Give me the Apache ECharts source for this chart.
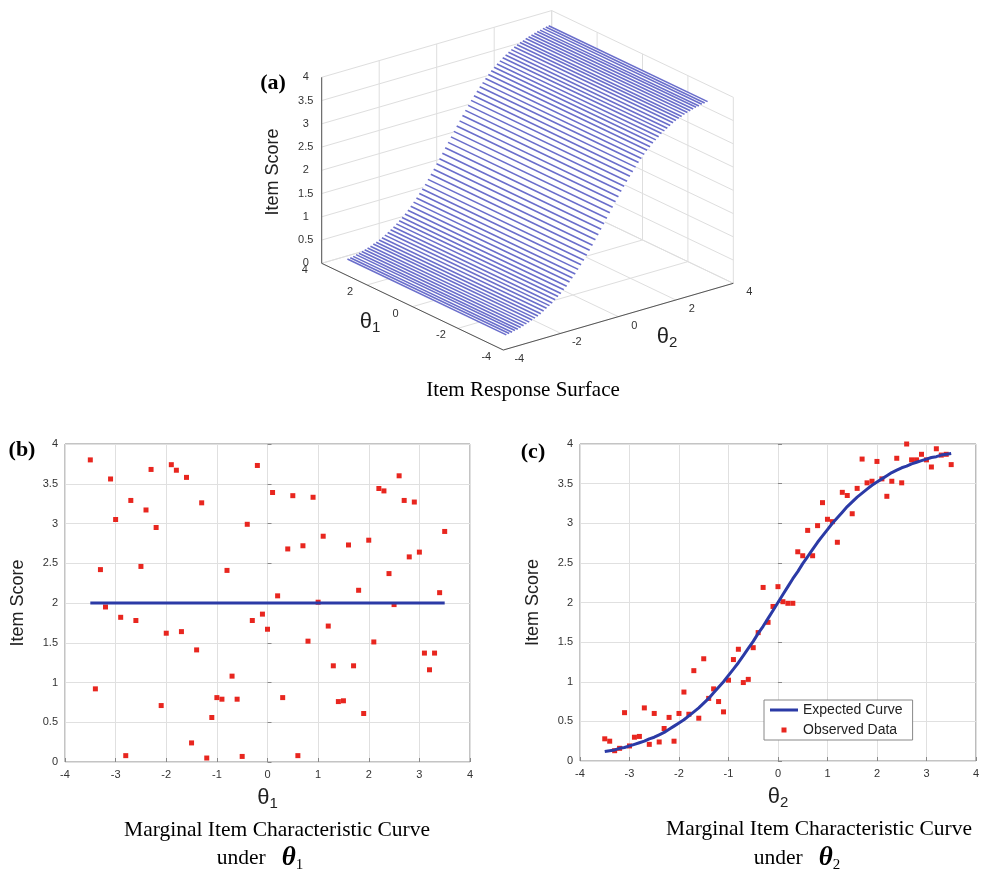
<!DOCTYPE html>
<html>
<head>
<meta charset="utf-8">
<script src="https://cdn.jsdelivr.net/npm/echarts@6/dist/echarts.min.js"></script>
<style>
  html, body { margin: 0; padding: 0; background: #fff; }
  #main { width: 982px; height: 873px; }
</style>
</head>
<body>
<div id="main"></div>
<script>
// ---------- data ----------
var theta = [-3.5,-3.4,-3.3,-3.2,-3.1,-3.0,-2.9,-2.8,-2.7,-2.6,-2.5,-2.4,-2.3,-2.2,-2.1,-2.0,-1.9,-1.8,-1.7,-1.6,
  -1.5,-1.4,-1.3,-1.2,-1.1,-1.0,-0.9,-0.8,-0.7,-0.6,-0.5,-0.4,-0.3,-0.2,-0.1,0.0,0.1,0.2,0.3,0.4,
  0.5,0.6,0.7,0.8,0.9,1.0,1.1,1.2,1.3,1.4,1.5,1.6,1.7,1.8,1.9,2.0,2.1,2.2,2.3,2.4,
  2.5,2.6,2.7,2.8,2.9,3.0,3.1,3.2,3.3,3.4,3.5];

// (b) observed item scores against theta1
var scoreB = [3.80,0.92,2.42,1.95,3.56,3.05,1.82,0.08,3.29,1.78,2.46,3.17,3.68,2.95,0.71,1.62,3.74,3.67,1.64,3.58,
  0.24,1.41,3.26,0.05,0.56,0.81,0.79,2.41,1.08,0.79,0.07,2.99,1.78,3.73,1.86,1.67,3.39,2.09,0.81,2.68,
  3.35,0.08,2.72,1.52,3.33,2.01,2.84,1.71,1.21,0.76,0.77,2.73,1.21,2.16,0.61,2.79,1.51,3.44,3.41,2.37,
  1.98,3.60,3.29,2.58,3.27,2.64,1.37,1.16,1.37,2.13,2.90];
var levelB = 2.0;   // flat marginal curve in (b)

// (c) observed item scores against theta2
var scoreC = [0.28,0.25,0.13,0.16,0.61,0.19,0.30,0.31,0.67,0.21,0.60,0.24,0.41,0.55,0.25,0.60,0.87,0.59,1.14,0.54,
  1.29,0.79,0.91,0.75,0.62,1.02,1.28,1.41,0.99,1.03,1.43,1.62,2.19,1.75,1.95,2.20,2.01,1.99,1.99,2.64,
  2.59,2.91,2.59,2.97,3.26,3.05,3.02,2.76,3.39,3.35,3.12,3.44,3.81,3.51,3.53,3.78,3.56,3.34,3.53,3.82,
  3.51,4.00,3.80,3.80,3.87,3.80,3.71,3.94,3.86,3.87,3.74];

// expected curve (c), also the height of the surface (a) along theta2
var expectedC = [0.12,0.13,0.14,0.16,0.17,0.19,0.21,0.23,0.25,0.28,0.30,0.33,0.36,0.40,0.44,0.48,0.52,0.57,0.62,0.67,
  0.73,0.79,0.86,0.93,1.00,1.08,1.16,1.24,1.33,1.42,1.51,1.61,1.70,1.80,1.90,2.00,2.10,2.20,2.30,2.39,
  2.49,2.58,2.67,2.76,2.84,2.92,3.00,3.07,3.14,3.21,3.27,3.33,3.38,3.43,3.48,3.52,3.56,3.60,3.64,3.67,
  3.70,3.72,3.75,3.77,3.79,3.81,3.83,3.84,3.86,3.87,3.88];

var cubeTicks = [-4,-2,0,2,4];
var zTicks = [0,0.5,1,1.5,2,2.5,3,3.5,4];

// ---------- 3D view of panel (a) ----------
var last = theta.length - 1;
var O3 = [527.5, 273.3], U3 = [-22.7, -10.84], V3 = [28.75, -8.34], W3 = [0, -46.5];
function proj(t1, t2, z) {
  return [O3[0] + t1 * U3[0] + t2 * V3[0] + z * W3[0],
          O3[1] + t1 * U3[1] + t2 * V3[1] + z * W3[1]];
}

var TXT = '"Liberation Sans", Arial, sans-serif';
var SERIF = '"Liberation Serif", "Times New Roman", serif';
var BLUE = '#2b3aa6', RED = '#e8261f';

function tstyle(s, font, extra) {
  var o = { text: s, fill: '#222', font: font, align: 'center', verticalAlign: 'middle',
            textAlign: 'center', textVerticalAlign: 'middle' };
  for (var k in extra) o[k] = extra[k];
  return o;
}

function renderBox(params, api) {
  var kids = [];
  var gridC = '#dedede', axC = '#555';
  function seg(a, b, c, w) {
    var p = api.coord(a), q = api.coord(b);
    kids.push({ type: 'line', shape: { x1: p[0], y1: p[1], x2: q[0], y2: q[1] }, style: { stroke: c, lineWidth: w } });
  }
  function txt(a, dx, dy, s) {
    var p = api.coord(a);
    kids.push({ type: 'text', x: p[0] + dx, y: p[1] + dy, style: tstyle(s, '11px ' + TXT, { fill: '#333' }) });
  }
  var lo = cubeTicks[0], hi = cubeTicks[cubeTicks.length - 1], zTop = zTicks[zTicks.length - 1];
  zTicks.forEach(function (z) {
    seg(proj(hi, lo, z), proj(hi, hi, z), gridC, 1);
    seg(proj(hi, hi, z), proj(lo, hi, z), gridC, 1);
  });
  cubeTicks.forEach(function (t) {
    seg(proj(hi, t, 0), proj(hi, t, zTop), gridC, 1);
    seg(proj(t, hi, 0), proj(t, hi, zTop), gridC, 1);
    seg(proj(t, lo, 0), proj(t, hi, 0), gridC, 1);
    seg(proj(lo, t, 0), proj(hi, t, 0), gridC, 1);
  });
  seg(proj(hi, lo, 0), proj(hi, lo, zTop), axC, 1);
  seg(proj(hi, lo, 0), proj(lo, lo, 0), axC, 1);
  seg(proj(lo, lo, 0), proj(lo, hi, 0), axC, 1);
  zTicks.forEach(function (z) { txt(proj(hi, lo, z), -16, 0, String(z)); });
  cubeTicks.forEach(function (t) {
    txt(proj(t, lo, 0), -17, 7, String(t));
    txt(proj(lo, t, 0), 16, 9, String(t));
  });
  return { type: 'group', children: kids };
}

function renderSurfaceFill(params, api) {
  var pts = [];
  for (var i = 0; i <= last; i++) pts.push(api.coord(proj(theta[last], theta[i], expectedC[i])));
  for (var j = last; j >= 0; j--) pts.push(api.coord(proj(theta[0], theta[j], expectedC[j])));
  return { type: 'polygon', shape: { points: pts }, style: { fill: '#fff' } };
}

function renderStripe(params, api) {
  var t2 = api.value(0), z = api.value(1);
  var p = api.coord(proj(theta[0], t2, z)), q = api.coord(proj(theta[last], t2, z));
  return { type: 'line', shape: { x1: p[0], y1: p[1], x2: q[0], y2: q[1] },
           style: { stroke: '#6a6ecb', lineWidth: 1.6 } };
}

var myChart = echarts.init(document.getElementById('main'));

var axisLabelStyle = { fontFamily: TXT, fontSize: 11, color: '#333', margin: 7 };
var splitStyle = { show: true, lineStyle: { color: '#e0e0e0', width: 1 } };
var tickStyle = { inside: true, length: 4, lineStyle: { color: '#888' } };
var nameRich = {
  t: { fontFamily: TXT, fontSize: 22, color: '#222' },
  s: { fontFamily: TXT, fontSize: 15, color: '#222', padding: [12, 0, 0, 0] }
};
var underRich = {
  t: { fontFamily: SERIF, fontSize: 27, fontStyle: 'italic', fontWeight: 'bold', fill: '#000' },
  s: { fontFamily: SERIF, fontSize: 15, fill: '#000', padding: [14, 0, 0, 0] }
};

myChart.setOption({
  animation: false,
  backgroundColor: '#fff',
  grid: [
    { left: 0, top: 0, width: 982, height: 873 },
    { left: 65, top: 444, width: 405, height: 318, show: true, borderColor: '#888', borderWidth: 1 },
    { left: 580, top: 444, width: 401, height: 317, show: true, borderColor: '#888', borderWidth: 1 }
  ],
  xAxis: [
    { gridIndex: 0, type: 'value', min: 0, max: 982, show: false },
    { gridIndex: 1, type: 'value', min: -4, max: 4, interval: 1,
      axisLine: { show: false }, axisTick: tickStyle, axisLabel: axisLabelStyle, splitLine: splitStyle,
      name: '{t|θ}{s|1}', nameLocation: 'middle', nameGap: 22, nameTextStyle: { rich: nameRich } },
    { gridIndex: 2, type: 'value', min: -4, max: 4, interval: 1,
      axisLine: { show: false }, axisTick: tickStyle, axisLabel: axisLabelStyle, splitLine: splitStyle,
      name: '{t|θ}{s|2}', nameLocation: 'middle', nameGap: 22, nameTextStyle: { rich: nameRich } }
  ],
  yAxis: [
    { gridIndex: 0, type: 'value', min: 0, max: 873, inverse: true, show: false },
    { gridIndex: 1, type: 'value', min: 0, max: 4, interval: 0.5,
      axisLine: { show: false }, axisTick: tickStyle, axisLabel: axisLabelStyle, splitLine: splitStyle,
      name: 'Item Score', nameLocation: 'middle', nameGap: 38,
      nameTextStyle: { fontFamily: TXT, fontSize: 18, color: '#222' } },
    { gridIndex: 2, type: 'value', min: 0, max: 4, interval: 0.5,
      axisLine: { show: false }, axisTick: tickStyle, axisLabel: axisLabelStyle, splitLine: splitStyle,
      name: 'Item Score', nameLocation: 'middle', nameGap: 38,
      nameTextStyle: { fontFamily: TXT, fontSize: 18, color: '#222' } }
  ],
  legend: {
    data: [
      { name: 'Expected Curve', icon: 'path://M0,0h0.1v0.1h-0.1z M0,5.5h28v3h-28z M27.9,13.9h0.1v0.1h-0.1z' },
      { name: 'Observed Data', icon: 'path://M0,0h0.1v0.1h-0.1z M11.5,4.5h5v5h-5z M27.9,13.9h0.1v0.1h-0.1z' }
    ],
    left: 764, top: 700, orient: 'vertical', itemWidth: 28, itemHeight: 14, itemGap: 6,
    padding: [3, 10, 3, 6], borderColor: '#888', borderWidth: 1, backgroundColor: '#fff',
    textStyle: { fontFamily: TXT, fontSize: 14, color: '#222' }
  },
  graphic: [
    { type: 'text', x: 273, y: 83, style: tstyle('(a)', 'bold 22px ' + SERIF, { fill: '#000' }) },
    { type: 'text', x: 22, y: 450, style: tstyle('(b)', 'bold 22px ' + SERIF, { fill: '#000' }) },
    { type: 'text', x: 533, y: 452, style: tstyle('(c)', 'bold 22px ' + SERIF, { fill: '#000' }) },
    { type: 'text', x: 273, y: 172, rotation: Math.PI / 2, style: tstyle('Item Score', '18px ' + TXT) },
    { type: 'text', x: 370, y: 322, style: tstyle('{t|θ}{s|1}', '22px ' + TXT, { rich: nameRich }) },
    { type: 'text', x: 667, y: 337, style: tstyle('{t|θ}{s|2}', '22px ' + TXT, { rich: nameRich }) },
    { type: 'text', x: 523, y: 390, style: tstyle('Item Response Surface', '21px ' + SERIF, { fill: '#000' }) },
    { type: 'text', x: 277, y: 830, style: tstyle('Marginal Item Characteristic Curve', '21.5px ' + SERIF, { fill: '#000' }) },
    { type: 'text', x: 819, y: 829, style: tstyle('Marginal Item Characteristic Curve', '21.5px ' + SERIF, { fill: '#000' }) },
    { type: 'text', x: 260, y: 858, style: tstyle('under   {t|θ}{s|1}', '21.5px ' + SERIF, { fill: '#000', rich: underRich }) },
    { type: 'text', x: 797, y: 858, style: tstyle('under   {t|θ}{s|2}', '21.5px ' + SERIF, { fill: '#000', rich: underRich }) }
  ],
  series: [
    { name: 'box', type: 'custom', xAxisIndex: 0, yAxisIndex: 0, data: [[0, 0]], renderItem: renderBox, silent: true },
    { name: 'surfaceFill', type: 'custom', xAxisIndex: 0, yAxisIndex: 0, data: [[0, 0]], renderItem: renderSurfaceFill, silent: true },
    { name: 'surface', type: 'custom', xAxisIndex: 0, yAxisIndex: 0, renderItem: renderStripe, silent: true,
      data: theta.map(function (t, i) { return [t, expectedC[i]]; }) },

    { name: 'flat', type: 'line', xAxisIndex: 1, yAxisIndex: 1, symbol: 'none',
      lineStyle: { color: BLUE, width: 3 }, itemStyle: { color: BLUE },
      data: [[theta[0], levelB], [theta[last], levelB]] },
    { name: 'observedB', type: 'scatter', xAxisIndex: 1, yAxisIndex: 1, symbol: 'rect', symbolSize: 5,
      itemStyle: { color: RED, opacity: 1 }, data: theta.map(function (t, i) { return [t, scoreB[i]]; }) },

    { name: 'Observed Data', type: 'scatter', xAxisIndex: 2, yAxisIndex: 2, symbol: 'rect', symbolSize: 5,
      itemStyle: { color: RED, opacity: 1 }, data: theta.map(function (t, i) { return [t, scoreC[i]]; }) },
    { name: 'Expected Curve', type: 'line', xAxisIndex: 2, yAxisIndex: 2, symbol: 'none',
      lineStyle: { color: BLUE, width: 3 }, itemStyle: { color: BLUE },
      data: theta.map(function (t, i) { return [t, expectedC[i]]; }) }
  ]
});
</script>
</body>
</html>
